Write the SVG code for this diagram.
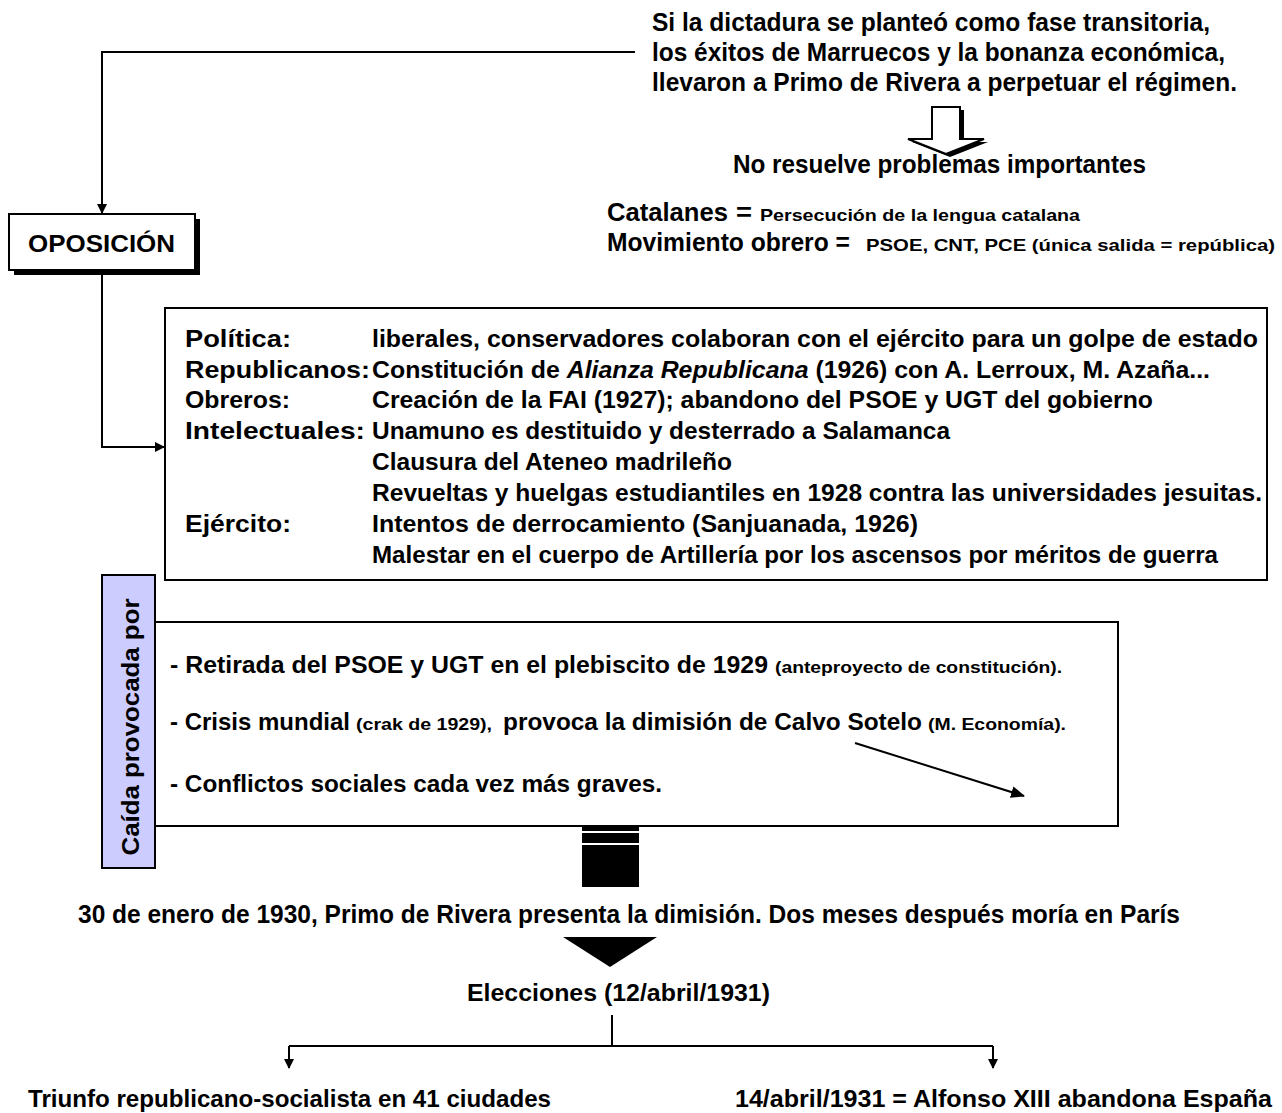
<svg xmlns="http://www.w3.org/2000/svg" width="1282" height="1113" viewBox="0 0 1282 1113">
<style>
text{font-family:"Liberation Sans",Arial,sans-serif;font-weight:bold;fill:#000}
.b{font-size:25px}
.m{font-size:24px}
.s{font-size:17px}
.xs{font-size:16px}
.ln{stroke:#000;stroke-width:2;fill:none}
</style>
<defs>
<marker id="ah" markerWidth="10" markerHeight="10" refX="9" refY="5" orient="auto" markerUnits="userSpaceOnUse" viewBox="0 0 10 10">
<path d="M0,0 L10,5 L0,10 Z" fill="#000"/>
</marker>
<marker id="ah2" markerWidth="14" markerHeight="14" refX="13" refY="7" orient="auto" markerUnits="userSpaceOnUse" viewBox="0 0 14 14">
<path d="M0,1 L14,7 L0,13 Z" fill="#000"/>
</marker>
</defs>
<rect width="1282" height="1113" fill="#fff"/>

<g id="intro">
<text class="b" x="652" y="31" textLength="558" lengthAdjust="spacingAndGlyphs">Si la dictadura se planteó como fase transitoria,</text>
<text class="b" x="652" y="61" textLength="573" lengthAdjust="spacingAndGlyphs">los éxitos de Marruecos y la bonanza económica,</text>
<text class="b" x="652" y="91" textLength="585" lengthAdjust="spacingAndGlyphs">llevaron a Primo de Rivera a perpetuar el régimen.</text>
</g>

<g id="hollow-arrow">
<polygon points="936,110 964,110 964,142 988,142 950,157 912,142 936,142" fill="#000"/>
<polygon points="932,107 960,107 960,139 984,139 946,154 908,139 932,139" fill="#fff" stroke="#000" stroke-width="2"/>
</g>

<g id="problemas">
<text class="b" x="733" y="173" textLength="413" lengthAdjust="spacingAndGlyphs">No resuelve problemas importantes</text>
<text class="b" x="607" y="221" textLength="121" lengthAdjust="spacingAndGlyphs">Catalanes</text>
<text class="b" x="736" y="221" textLength="16" lengthAdjust="spacingAndGlyphs">=</text>
<text class="s" x="760" y="221" textLength="320" lengthAdjust="spacingAndGlyphs">Persecución de la lengua catalana</text>
<text class="b" x="607" y="251" textLength="243" lengthAdjust="spacingAndGlyphs">Movimiento obrero  =</text>
<text class="s" x="866" y="251" textLength="409" lengthAdjust="spacingAndGlyphs">PSOE, CNT, PCE (única salida = república)</text>
</g>

<g id="oposicion">
<rect x="14" y="219" width="186" height="56" fill="#000"/>
<rect x="9" y="214" width="186" height="56" fill="#fff" stroke="#000" stroke-width="2"/>
<text class="m" x="28" y="252" textLength="147" lengthAdjust="spacingAndGlyphs">OPOSICIÓN</text>
</g>

<g id="grupos">
<rect x="165" y="308" width="1102" height="272" fill="#fff" stroke="#000" stroke-width="2"/>
<text class="m" x="185" y="347" textLength="106" lengthAdjust="spacingAndGlyphs">Política:</text>
<text class="m" x="372" y="347" textLength="886" lengthAdjust="spacingAndGlyphs">liberales, conservadores colaboran con el ejército para un golpe de estado</text>
<text class="m" x="185" y="378" textLength="185" lengthAdjust="spacingAndGlyphs">Republicanos:</text>
<text class="m" x="372" y="378" textLength="838" lengthAdjust="spacingAndGlyphs">Constitución de <tspan font-style="italic">Alianza Republicana</tspan> (1926) con A. Lerroux, M. Azaña...</text>
<text class="m" x="185" y="408" textLength="105" lengthAdjust="spacingAndGlyphs">Obreros:</text>
<text class="m" x="372" y="408" textLength="781" lengthAdjust="spacingAndGlyphs">Creación de la FAI (1927); abandono del PSOE y UGT del gobierno</text>
<text class="m" x="185" y="439" textLength="180" lengthAdjust="spacingAndGlyphs">Intelectuales:</text>
<text class="m" x="372" y="439" textLength="578" lengthAdjust="spacingAndGlyphs">Unamuno es destituido y desterrado a Salamanca</text>
<text class="m" x="372" y="470" textLength="360" lengthAdjust="spacingAndGlyphs">Clausura del Ateneo madrileño</text>
<text class="m" x="372" y="501" textLength="890" lengthAdjust="spacingAndGlyphs">Revueltas y huelgas estudiantiles en 1928 contra las universidades jesuitas.</text>
<text class="m" x="185" y="532" textLength="106" lengthAdjust="spacingAndGlyphs">Ejército:</text>
<text class="m" x="372" y="532" textLength="546" lengthAdjust="spacingAndGlyphs">Intentos de derrocamiento (Sanjuanada, 1926)</text>
<text class="m" x="372" y="563" textLength="846" lengthAdjust="spacingAndGlyphs">Malestar en el cuerpo de Artillería por los ascensos por méritos de guerra</text>
</g>

<g id="causas">
<rect x="155" y="622" width="963" height="204" fill="#fff" stroke="#000" stroke-width="2"/>
<text class="m" x="170" y="673" textLength="598" lengthAdjust="spacingAndGlyphs">- Retirada del PSOE y UGT en el plebiscito de 1929</text>
<text class="xs" x="775" y="673" textLength="287" lengthAdjust="spacingAndGlyphs">(anteproyecto de constitución).</text>
<text class="m" x="170" y="730" textLength="180" lengthAdjust="spacingAndGlyphs">- Crisis mundial</text>
<text class="xs" x="356" y="730" textLength="136" lengthAdjust="spacingAndGlyphs">(crak de 1929),</text>
<text class="m" x="503" y="730" textLength="419" lengthAdjust="spacingAndGlyphs">provoca la dimisión de Calvo Sotelo</text>
<text class="xs" x="928" y="730" textLength="138" lengthAdjust="spacingAndGlyphs">(M. Economía).</text>
<text class="m" x="170" y="792" textLength="492" lengthAdjust="spacingAndGlyphs">- Conflictos sociales cada vez más graves.</text>
</g>

<g id="caida">
<rect x="102" y="575" width="53" height="293" fill="#ccccff" stroke="#000" stroke-width="2"/>
<text class="m" transform="translate(139,727) rotate(-90)" text-anchor="middle" textLength="257" lengthAdjust="spacingAndGlyphs">Caída provocada por</text>
</g>

<g id="barra">
<rect x="582" y="826" width="57" height="61" fill="#000"/>
<line x1="582" y1="832" x2="639" y2="832" stroke="#fff" stroke-width="2"/>
<line x1="582" y1="844" x2="639" y2="844" stroke="#fff" stroke-width="2"/>
</g>

<g id="dimision">
<text class="b" x="78" y="923" textLength="1102" lengthAdjust="spacingAndGlyphs">30 de enero de 1930, Primo de Rivera presenta la dimisión. Dos meses después moría en París</text>
</g>

<g id="triangulo">
<polygon points="563,937 657,937 610,967" fill="#000"/>
</g>

<g id="elecciones">
<text class="m" x="467" y="1001" textLength="303" lengthAdjust="spacingAndGlyphs">Elecciones (12/abril/1931)</text>
</g>

<g id="triunfo">
<text class="m" x="28" y="1107" textLength="523" lengthAdjust="spacingAndGlyphs">Triunfo republicano-socialista en 41 ciudades</text>
</g>

<g id="abandona">
<text class="m" x="735" y="1107" textLength="537" lengthAdjust="spacingAndGlyphs">14/abril/1931 = Alfonso XIII abandona España</text>
</g>

<g id="connectors">
<polyline class="ln" points="635,52 102,52 102,213" marker-end="url(#ah)"/>
<polyline class="ln" points="102,275 102,447 164,447" marker-end="url(#ah)"/>
<line class="ln" x1="855" y1="743" x2="1024" y2="796" marker-end="url(#ah2)"/>
<line class="ln" x1="612" y1="1015" x2="612" y2="1046"/>
<line class="ln" x1="289" y1="1046" x2="993" y2="1046"/>
<line class="ln" x1="289" y1="1046" x2="289" y2="1068" marker-end="url(#ah)"/>
<line class="ln" x1="993" y1="1046" x2="993" y2="1068" marker-end="url(#ah)"/>
</g>
</svg>
